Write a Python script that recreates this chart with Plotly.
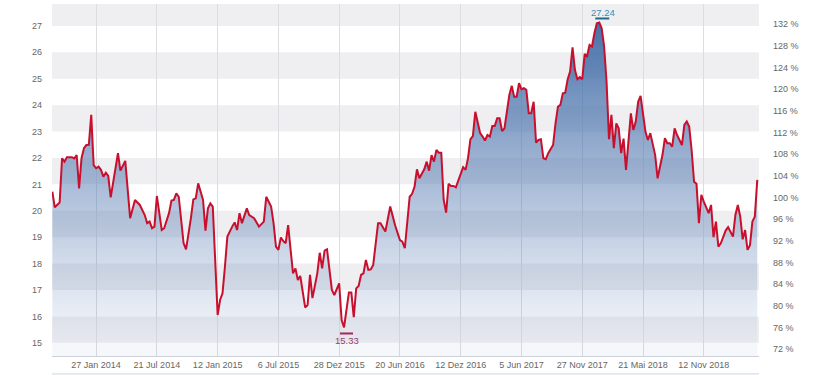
import plotly.graph_objects as go
from datetime import datetime

# ---- data: weekly closes, keyed by ISO week number per year ----
weeks_2013 = [39, 40, 42, 43, 44, 45, 47, 48, 49, 50, 51, 52]
close_2013 = [20.72, 20.13, 20.31, 21.99, 21.86, 22.03, 22.03, 21.98, 22.11, 20.85, 21.99, 22.37]

weeks_2014 = [1, 2, 3, 4, 5, 6, 7, 8, 9, 10, 11, 13, 14, 15, 17, 19, 21, 23, 25, 26, 27, 28, 29, 30,
              32, 33, 35, 36, 37, 38, 39, 41, 42, 44, 45, 46, 47, 49, 50, 51, 52]
close_2014 = [22.49, 22.50, 23.63, 21.73, 21.61, 21.67, 21.55, 21.29, 21.44, 21.32, 20.51, 21.55, 22.18,
              21.52, 21.89, 19.72, 20.41, 20.22, 19.84, 19.53, 19.59, 19.34, 19.40, 20.56, 19.27, 19.34,
              19.91, 20.39, 20.41, 20.66, 20.53, 18.77, 18.54, 19.72, 20.43, 20.47, 21.04, 20.41, 19.25,
              20.09, 20.28]

weeks_2015 = [1, 3, 4, 5, 6, 7, 9, 10, 11, 12, 13, 15, 16, 18, 20, 21, 22, 23, 25, 26, 27, 28, 29, 30,
              31, 32, 34, 35, 36, 37, 39, 40, 41, 42, 44, 45, 46, 47, 48, 50, 51, 53]
close_2015 = [20.16, 16.05, 16.62, 16.87, 17.88, 19.02, 19.40, 19.56, 19.27, 19.91, 19.53, 20.09, 19.84,
              19.72, 19.40, 19.50, 19.59, 20.53, 20.16, 19.53, 18.64, 18.52, 18.99, 18.85, 18.77, 19.46,
              17.63, 17.82, 17.38, 17.53, 16.34, 16.43, 17.57, 16.69, 17.63, 18.41, 17.82, 18.49, 18.54,
              17.00, 16.81, 17.25]

weeks_2016 = [1, 2, 3, 4, 5, 6, 7, 8, 9, 10, 11, 12, 13, 14, 16, 17, 19, 21, 23, 25, 26, 27, 29, 30,
              31, 32, 33, 35, 36, 37, 38, 39, 40, 41, 42, 43, 44, 45, 46, 47, 48, 50, 51, 52]
close_2016 = [15.86, 15.58, 16.18, 16.90, 16.90, 15.97, 17.06, 17.15, 17.57, 17.63, 18.14, 17.76, 17.78,
              17.95, 19.53, 19.53, 19.21, 20.16, 19.45, 18.89, 18.83, 18.58, 20.53, 20.64, 20.91, 21.57,
              21.23, 21.57, 21.86, 21.52, 22.11, 21.86, 22.30, 22.20, 22.20, 20.41, 19.93, 21.02, 20.94,
              20.94, 20.89, 21.36, 21.65, 21.55]

weeks_2017 = [1, 2, 3, 4, 5, 6, 7, 8, 9, 10, 11, 12, 13, 14, 15, 16, 18, 19, 20, 21, 22, 23, 24, 25,
              26, 27, 28, 29, 30, 31, 32, 33, 34, 36, 37, 38, 39, 40, 41, 42, 43, 44, 45, 46, 47, 48,
              49, 50, 51, 52]
close_2017 = [21.99, 22.71, 22.83, 23.75, 23.38, 22.94, 22.81, 22.66, 22.87, 22.81, 23.21, 23.21, 23.50,
              23.50, 23.02, 23.12, 24.39, 24.73, 24.32, 24.32, 24.83, 24.60, 24.64, 24.58, 23.69, 23.69,
              24.13, 22.58, 22.68, 22.71, 21.99, 21.95, 22.18, 22.49, 23.31, 23.94, 24.01, 24.45, 24.47,
              24.98, 25.27, 26.19, 25.33, 24.98, 25.06, 24.98, 25.94, 25.86, 26.28, 26.22]

weeks_2018 = [1, 2, 3, 4, 5, 6, 7, 8, 9, 10, 11, 12, 13, 14, 16, 17, 18, 19, 20, 21, 22, 23, 24, 26,
              27, 29, 30, 31, 32, 33, 34, 35, 37, 38, 39, 40, 41, 42, 43, 44, 45, 46, 47, 48, 49, 50,
              51, 52]
close_2018 = [26.72, 27.10, 27.13, 26.91, 26.22, 24.89, 22.71, 23.63, 22.37, 23.31, 23.12, 22.18, 22.73,
              21.55, 23.69, 23.06, 23.38, 24.13, 24.35, 23.56, 23.00, 22.68, 22.94, 22.11, 21.23, 22.11,
              22.75, 22.56, 22.56, 22.43, 23.12, 22.87, 22.49, 23.25, 23.38, 23.19, 22.30, 21.10, 21.02,
              19.53, 20.60, 20.35, 20.09, 19.91, 20.22, 19.00, 19.59, 18.64]

weeks_2019 = [1, 2, 3, 4, 5, 6, 7, 8, 9, 10, 11, 12, 13, 14, 15, 16]
close_2019 = [18.77, 19.05, 19.25, 19.38, 19.17, 19.02, 19.84, 20.22, 19.78, 18.92, 19.27, 18.52, 18.70,
              19.59, 19.78, 21.17]

period_high_label = "27.24"
period_low_label = "15.33"
base_value = 20.5  # 100 % reference level for the right axis

tick_dates = ["2014-01-27", "2014-07-21", "2015-01-12", "2015-07-06", "2015-12-28", "2016-06-20",
              "2016-12-12", "2017-06-05", "2017-11-27", "2018-05-21", "2018-11-12"]
tick_labels = ["27 Jan 2014", "21 Jul 2014", "12 Jan 2015", "6 Jul 2015", "28 Dez 2015", "20 Jun 2016",
               "12 Dez 2016", "5 Jun 2017", "27 Nov 2017", "21 Mai 2018", "12 Nov 2018"]
left_ticks = [15, 16, 17, 18, 19, 20, 21, 22, 23, 24, 25, 26, 27]
pct_ticks = [72, 76, 80, 84, 88, 92, 96, 100, 104, 108, 112, 116, 120, 124, 128, 132]
pct_labels = [f"{v} %" for v in pct_ticks]

# ---- assemble ----
dates, closes = [], []
for year, wk, cl in [(2013, weeks_2013, close_2013), (2014, weeks_2014, close_2014),
                     (2015, weeks_2015, close_2015), (2016, weeks_2016, close_2016),
                     (2017, weeks_2017, close_2017), (2018, weeks_2018, close_2018),
                     (2019, weeks_2019, close_2019)]:
    dates += [datetime.strptime(f"{year}-W{w:02d}-1", "%G-W%V-%u") for w in wk]
    closes += cl

y_range = [14.5, 27.83]
x_range = ["2013-09-22", "2019-04-20"]

i_max = max(range(len(closes)), key=lambda i: closes[i])
i_min = min(range(len(closes)), key=lambda i: closes[i])

font_family = "Liberation Sans, Arial, sans-serif"
fs = 9
fig = go.Figure()

fig.add_trace(go.Scatter(
    x=dates, y=closes, mode="lines",
    line=dict(color="#c8102e", width=2),
    fill="tozeroy",
    fillgradient=dict(type="vertical", start=15, stop=closes[i_max],
                      colorscale=[[0, "rgba(110,140,190,0.07)"], [1, "rgba(60,105,165,0.95)"]]),
    hoverinfo="skip", showlegend=False,
))
# invisible trace for the right (percent) axis
fig.add_trace(go.Scatter(x=[dates[0]], y=[closes[0] / base_value * 100], yaxis="y2",
                         mode="markers", marker=dict(opacity=0), showlegend=False, hoverinfo="skip"))

shapes = []
# alternating bands
for lo in range(15, 28, 2):
    shapes.append(dict(type="rect", xref="paper", x0=0, x1=1, yref="y", y0=lo, y1=lo + 1,
                       fillcolor="#efeff1", line=dict(width=0), layer="below"))
# high / low markers
shapes.append(dict(type="line", xref="x", yref="y", xsizemode="pixel", ysizemode="pixel",
                   xanchor=dates[i_max], yanchor=closes[i_max], x0=-4, x1=10, y0=4, y1=4,
                   line=dict(color="#1d6b86", width=2)))
shapes.append(dict(type="line", xref="x", yref="y", xsizemode="pixel", ysizemode="pixel",
                   xanchor=dates[i_min], yanchor=closes[i_min], x0=-4, x1=9, y0=-6, y1=-6,
                   line=dict(color="#a3285e", width=2)))
# bottom frame line
shapes.append(dict(type="line", xref="paper", yref="paper", x0=0, x1=1, y0=-0.051, y1=-0.051,
                   line=dict(color="#cfd4dc", width=1)))

annotations = [
    dict(x=dates[i_max], y=closes[i_max], text=period_high_label, showarrow=False,
         yanchor="bottom", xanchor="center", xshift=4, yshift=2,
         font=dict(color="#3a8cb8", size=fs + 0.5, family=font_family)),
    dict(x=dates[i_min], y=closes[i_min], text=period_low_label, showarrow=False,
         yanchor="top", xanchor="center", xshift=3, yshift=-6,
         font=dict(color="#9c3d6e", size=fs + 0.5, family=font_family)),
]

fig.update_layout(
    width=830, height=375,
    margin=dict(l=52, r=71, t=4, b=19, autoexpand=False),
    plot_bgcolor="white", paper_bgcolor="white",
    font=dict(family=font_family, size=fs, color="#666666"),
    shapes=shapes, annotations=annotations,
    xaxis=dict(range=x_range, tickvals=tick_dates, ticktext=tick_labels, tickangle=0,
               automargin=False,
               showgrid=True, gridcolor="#dcdde0", gridwidth=1,
               showline=True, linecolor="#ccd0d8", linewidth=1, ticks="", zeroline=False,
               tickfont=dict(size=fs, color="#666666")),
    yaxis=dict(range=y_range, tickvals=left_ticks, showgrid=False, zeroline=False, automargin=False,
               ticks="", ticklabelstandoff=9, tickfont=dict(size=fs, color="#666666")),
    yaxis2=dict(range=[y_range[0] / base_value * 100, y_range[1] / base_value * 100],
                overlaying="y", side="right", tickvals=pct_ticks, ticktext=pct_labels,
                showgrid=False, zeroline=False, ticks="", ticklabelstandoff=13, automargin=False,
                tickfont=dict(size=fs, color="#666666")),
)

fig.write_html("out.html")
